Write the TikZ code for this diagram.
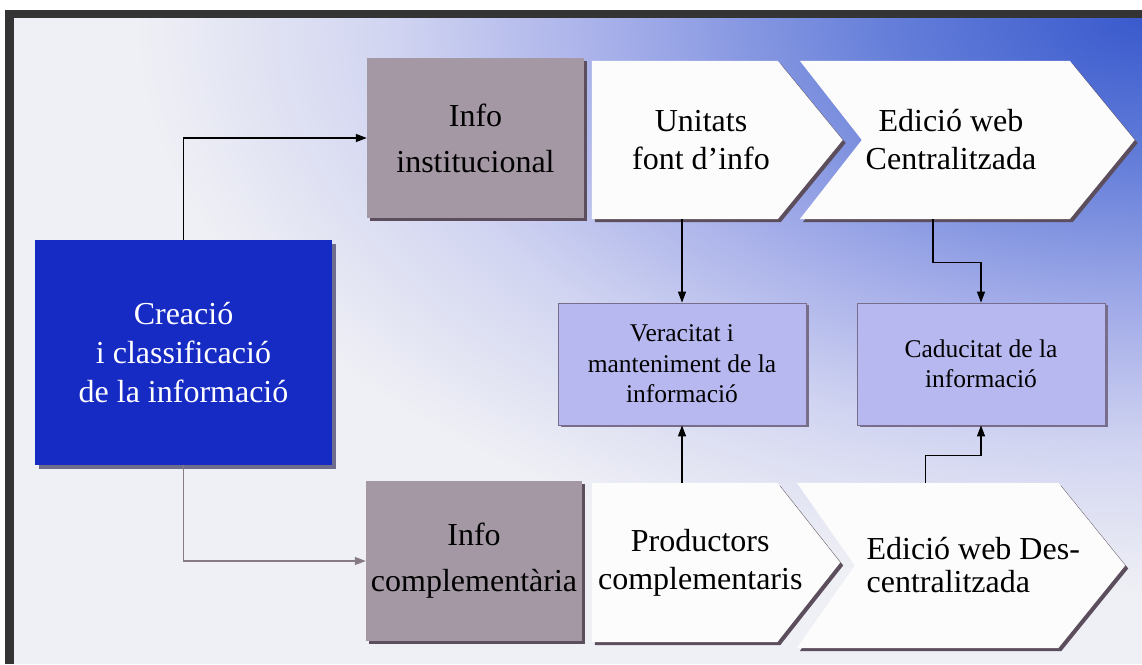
\documentclass[tikz,border=0pt]{standalone}
\usepackage{fontspec}
\setmainfont{Liberation Serif}
\usetikzlibrary{arrows.meta,shadows}
\definecolor{framec}{RGB}{52,52,52}
\definecolor{bluec}{RGB}{22,42,196}
\definecolor{grayc}{RGB}{164,152,164}
\definecolor{lavc}{RGB}{184,184,240}
\definecolor{lavborder}{RGB}{120,110,140}
\definecolor{shadowc}{RGB}{92,78,92}
\definecolor{blueshadow}{RGB}{110,110,140}
\definecolor{conngray}{RGB}{135,122,135}
\definecolor{chevfill}{RGB}{252,252,252}
\definecolor{bgzero}{RGB}{58,90,205}
\definecolor{bgone}{RGB}{100,126,217}
\definecolor{bgtwo}{RGB}{165,174,233}
\definecolor{bgthree}{RGB}{210,213,241}
\definecolor{bgfour}{RGB}{239,240,245}
\pgfdeclareradialshading{bgshade}{\pgfpoint{0bp}{0bp}}{color(0bp)=(bgzero); color(6bp)=(bgone); color(12.5bp)=(bgtwo); color(18bp)=(bgthree); color(24bp)=(bgfour); color(50bp)=(bgfour)}
\pgfdeclarelayer{bglayer}
\pgfdeclarelayer{shapelayer}
\pgfsetlayers{bglayer,shapelayer,main}
\begin{document}
\begin{tikzpicture}[x=1pt,y=1pt,
  shad/.style={drop shadow={shadow xshift=3pt,shadow yshift=-3pt,fill=shadowc,opacity=1}},
  bigtxt/.style={font=\fontsize{32}{38}\selectfont, align=center, inner sep=0pt},
  smtxt/.style={font=\fontsize{25.5}{30.5}\selectfont, align=center, inner sep=0pt},
  bluebox/.style={rectangle, fill=bluec, text=white, bigtxt, font=\fontsize{32}{39}\selectfont,
     drop shadow={shadow xshift=4pt,shadow yshift=-4pt,fill=blueshadow,opacity=1}},
  graybox/.style={rectangle, fill=grayc, shad, bigtxt, font=\fontsize{32}{46}\selectfont},
  lavbox/.style={rectangle, fill=lavc, draw=lavborder, line width=0.8pt, smtxt,
     drop shadow={shadow xshift=2.5pt,shadow yshift=-2.5pt,fill=lavborder,opacity=1}},
  chev/.style={rectangle, bigtxt},
  chevshape/.style={fill=chevfill, shad},
  conn/.style={line width=1.3pt, -{Triangle[length=11pt,width=8pt]}}
]
\useasboundingbox (0,0) rectangle (1142,664);
\begin{pgfonlayer}{bglayer}
  \fill[white] (0,0) rectangle (1142,664);
  \fill[bgfour] (14,0) rectangle (1142,646);
  \begin{scope}
    \clip (14,0) rectangle (1142,646);
    \shade[shading=bgshade] (1142,646) ellipse [x radius=1050, y radius=600];
  \end{scope}
  \fill[framec] (5,646) rectangle (1142,654);
  \fill[framec] (5,0) rectangle (14,654);
\end{pgfonlayer}

\node[bluebox, minimum width=297pt, minimum height=225pt] (crea) at (183.5,311.5) {Creació\\i classificació\\de la informació};
\node[graybox, minimum width=217pt, minimum height=160pt] (inst) at (475.5,526) {Info\\institucional};
\node[graybox, minimum width=216pt, minimum height=160pt] (comp) at (474,103) {Info\\complementària};
\node[lavbox, minimum width=248pt, minimum height=122pt] (ver) at (682,300) {Veracitat i\\manteniment de la\\informació};
\node[lavbox, minimum width=248pt, minimum height=122pt] (cad) at (981,300) {Caducitat de la\\informació};

\node[chev, minimum width=218pt, minimum height=158pt] (unit) at (701,524) {Unitats\\font d’info};
\node[chev, minimum width=302pt, minimum height=158pt] (ecen) at (951,524) {Edició web\\Centralitzada};
\node[chev, minimum width=216.5pt, minimum height=159pt] (prod) at (700.25,101.5) {Productors\\complementaris};
\node[chev, minimum width=236.5pt, minimum height=165pt, font=\fontsize{32}{33}\selectfont, align=left] (edes) at (973.25,98.5) {Edició web Des-\\centralitzada};

\begin{pgfonlayer}{shapelayer}
  \fill[chevshape] (unit.north west) -- ([xshift=-32.5pt]unit.north east) -- ([xshift=32.5pt]unit.east) -- ([xshift=-32.5pt]unit.south east) -- (unit.south west) -- cycle;
  \fill[chevshape] (ecen.north west) -- ([xshift=-32.5pt]ecen.north east) -- ([xshift=32.5pt]ecen.east) -- ([xshift=-32.5pt]ecen.south east) -- (ecen.south west) -- ([xshift=62pt]ecen.west) -- cycle;
  \fill[chevshape] (prod.north west) -- ([xshift=-31.5pt]prod.north east) -- ([xshift=31.5pt]prod.east) -- ([xshift=-31.5pt]prod.south east) -- (prod.south west) -- cycle;
  \fill[chevshape] ([xshift=-58pt]edes.north west) -- ([xshift=-33.5pt]edes.north east) -- ([xshift=33.5pt]edes.east) -- ([xshift=-33.5pt]edes.south east) -- ([xshift=-58pt]edes.south west) -- (edes.west) -- cycle;
\end{pgfonlayer}

\draw[conn] (crea.north) |- (inst.west);
\draw[conn, draw=conngray] (crea.south) |- (comp.west);
\draw[conn] (ver.north |- unit.south) -- (ver.north);
\draw[conn] ([xshift=-18pt]ecen.south) -- ++(0,-43) -| (cad.north);
\draw[conn] (ver.south |- prod.north) -- (ver.south);
\draw[conn] ([xshift=-48pt]edes.north) -- ++(0,27) -| (cad.south);
\end{tikzpicture}
\end{document}
